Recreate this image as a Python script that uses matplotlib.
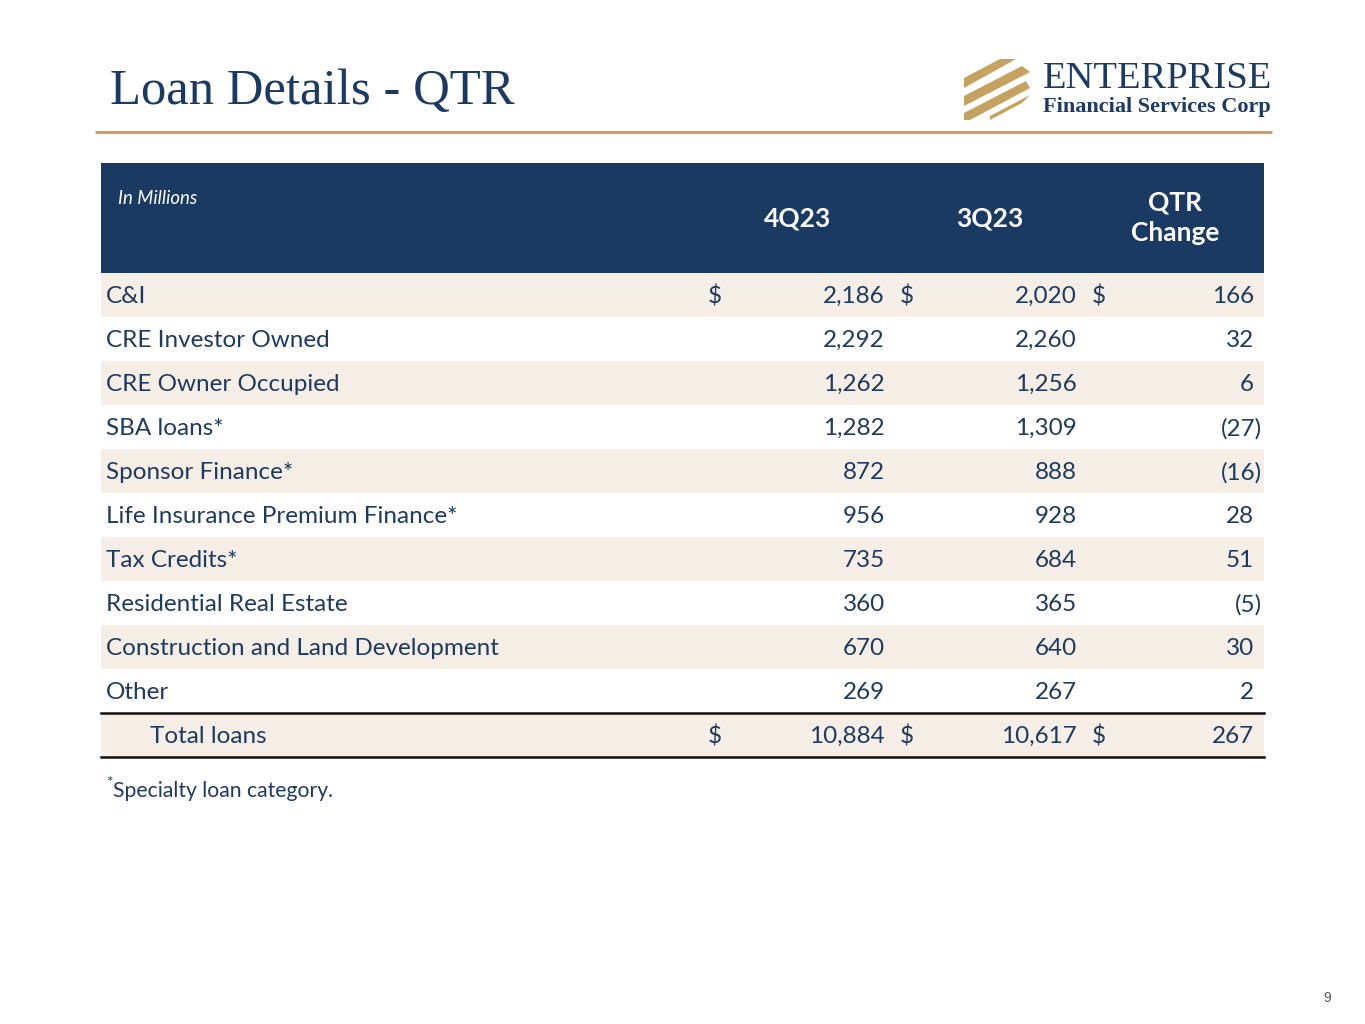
import matplotlib
matplotlib.use("Agg")
import matplotlib.pyplot as plt
from matplotlib.patches import Rectangle, Polygon

title = "Loan Details - QTR"
columns = ["4Q23", "3Q23", "QTR\nChange"]
categories = ["C&I", "CRE Investor Owned", "CRE Owner Occupied", "SBA loans*",
              "Sponsor Finance*", "Life Insurance Premium Finance*", "Tax Credits*",
              "Residential Real Estate", "Construction and Land Development", "Other"]
q4_23 = [2186, 2292, 1262, 1282, 872, 956, 735, 360, 670, 269]
q3_23 = [2020, 2260, 1256, 1309, 888, 928, 684, 365, 640, 267]
qtr_change = [166, 32, 6, -27, -16, 28, 51, -5, 30, 2]
total_label = "Total loans"
totals = [10884, 10617, 267]
footnote = "Specialty loan category."

NAVY = "#1b3a63"
TEXT = "#1f3a5f"
BEIGE = "#f4eee6"
GOLD = "#c6a260"
FONT = ["Lato", "DejaVu Sans"]
FS = 17.5

W, H = 1365, 1024
fig = plt.figure(figsize=(W / 100, H / 100), dpi=100)
ax = fig.add_axes([0, 0, 1, 1])
ax.set_xlim(0, W)
ax.set_ylim(H, 0)
ax.axis("off")

# Title
ax.text(110, 104, title, fontsize=36.5, color=NAVY, family=["Georgia", "Liberation Serif", "DejaVu Serif"],
        va="baseline", ha="left")
ax.plot([95, 1272], [132, 132], color=GOLD, lw=2.2, solid_capstyle="butt")

# Logo
stripes = [
    [(964, 78), (1000, 59), (1016, 59), (964, 88)],
    [(964, 96), (1022, 66), (1030, 72), (964, 106)],
    [(964, 113), (1026, 81), (1030, 88), (970, 120), (964, 120)],
    [(990, 116), (1030, 95), (1022, 103), (990, 120)],
]
for pts in stripes:
    ax.add_patch(Polygon(pts, closed=True, color=GOLD, lw=0))
ax.text(1043, 88, "ENTERPRISE", fontsize=27.7, color="#1d3a62",
        family=["Liberation Serif", "DejaVu Serif"], va="baseline", ha="left")
ax.text(1043, 112, "Financial Services Corp", fontsize=16, color="#1d3a62", fontweight="bold",
        family=["Liberation Serif", "DejaVu Serif"], va="baseline", ha="left")

# Table
x0, x1 = 101, 1264
hdr_top, hdr_bot = 163, 273
row_h = 44
ax.add_patch(Rectangle((x0, hdr_top), x1 - x0, hdr_bot - hdr_top, color=NAVY, lw=0))
ax.text(118, 198, "In Millions", fontsize=13.4, style="italic", color="white", family=FONT,
        va="center", ha="left")
col_centers = [798, 990, 1175]
for cx, lab in zip(col_centers, columns):
    ax.text(cx, 218, lab, fontsize=19, fontweight="bold", color="white", family=FONT,
            va="center", ha="center", linespacing=1.3)

dollar_x = [708, 900, 1092]
value_right = [885, 1077, 1254]


def fmt(v):
    if v < 0:
        return f"({-v:,})"
    return f"{v:,}"


def put_value(x_right, y, v):
    s = fmt(v)
    xr = x_right + 8 if v < 0 else x_right
    ax.text(xr, y, s, fontsize=FS, color=TEXT, family=FONT, va="center", ha="right")


for i, cat in enumerate(categories):
    top = hdr_bot + i * row_h
    if i % 2 == 0:
        ax.add_patch(Rectangle((x0, top), x1 - x0, row_h, color=BEIGE, lw=0))
    yc = top + row_h / 2 + 1.5
    ax.text(106, yc, cat, fontsize=FS, color=TEXT, family=FONT, va="center", ha="left")
    vals = [q4_23[i], q3_23[i], qtr_change[i]]
    for k, v in enumerate(vals):
        put_value(value_right[k], yc, v)
        if i == 0:
            ax.text(dollar_x[k], yc, "$", fontsize=FS, color=TEXT, family=FONT, va="center", ha="left")

top = hdr_bot + len(categories) * row_h
ax.add_patch(Rectangle((x0, top), x1 - x0, row_h, color=BEIGE, lw=0))
yc = top + row_h / 2 + 1.5
ax.text(150, yc, total_label, fontsize=FS, color=TEXT, family=FONT, va="center", ha="left")
for k, v in enumerate(totals):
    put_value(value_right[k], yc, v)
    ax.text(dollar_x[k], yc, "$", fontsize=FS, color=TEXT, family=FONT, va="center", ha="left")
ax.plot([x0, x1], [top, top], color="#111111", lw=1.8)
ax.plot([x0, x1], [top + row_h, top + row_h], color="#111111", lw=1.8)

# Footnote
ax.text(106, 783, "*", fontsize=11, color=TEXT, family=FONT, va="center", ha="left")
ax.text(113, 791, footnote, fontsize=15.2, color=TEXT, family=FONT, va="center", ha="left")

# Page number
ax.text(1331, 998, "9", fontsize=10, color="#555555", family=["Liberation Sans", "DejaVu Sans"],
        va="center", ha="right")

fig.savefig("out.png", dpi=100, facecolor="white")
